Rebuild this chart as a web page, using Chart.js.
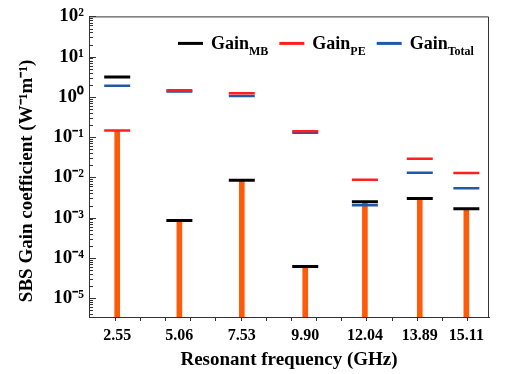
<!DOCTYPE html>
<html>
<head>
<meta charset="utf-8">
<script src="https://cdn.jsdelivr.net/npm/chart.js@4.4.1/dist/chart.umd.min.js"></script>
<style>
  html, body { margin: 0; padding: 0; background: #fff; }
  #wrap { width: 505px; height: 374px; }
</style>
</head>
<body>
<div id="wrap"><canvas id="c"></canvas></div>
<script>
// ---------------- data ----------------
const freqLabels = ['2.55', '5.06', '7.53', '9.90', '12.04', '13.89', '15.11'];
const xPos = [0.08, 2.55, 5.03, 7.55, 9.92, 12.1, 13.95];
const gainMB = [3.1, 8.5e-4, 8.5e-3, 6.1e-5, 2.5e-3, 3.0e-3, 1.66e-3];
const gainPE = [0.147, 1.46, 1.23, 0.141, 8.8e-3, 0.029, 0.0129];
const gainTotal = [1.9, 1.36, 1.06, 0.128, 2.03e-3, 0.0131, 5.4e-3];
const stem = [0.147, 8.5e-4, 8.5e-3, 6.1e-5, 2.5e-3, 3.0e-3, 1.66e-3];
const yExponents = [-5, -4, -3, -2, -1, 0, 1, 2];
const legendSubs = ['MB', 'PE', 'Total'];

const FONT = "'Liberation Serif', 'Times New Roman', serif";
const cBlack = '#000000', cRed = '#ff1f1f', cBlue = '#1f5aa8', cOrange = '#ff5a0a';

const sup = { '-': '\u207B', '0': '\u2070', '1': '\u00B9', '2': '\u00B2', '3': '\u00B3',
  '4': '\u2074', '5': '\u2075', '6': '\u2076', '7': '\u2077', '8': '\u2078', '9': '\u2079' };
const toSup = (n) => String(n).split('').map(ch => sup[ch]).join('');

const pts = (ys) => ys.map((y, i) => ({ x: xPos[i], y: y }));

function cap(label, data, color, order, width) {
  return {
    type: 'line', label: label, data: pts(data), showLine: false, order: order,
    pointStyle: 'line', pointRadius: 13, pointHoverRadius: 13,
    borderColor: color, backgroundColor: color, pointBorderWidth: width, borderWidth: width
  };
}

// frame, inward y ticks and the legend with subscripts
const extras = {
  id: 'extras',
  afterDraw(chart) {
    const ctx = chart.ctx, a = chart.chartArea, y = chart.scales.y;
    ctx.save();
    ctx.strokeStyle = '#333';
    ctx.lineWidth = 1;
    ctx.beginPath();
    ctx.moveTo(a.left, a.top + 0.5);
    ctx.lineTo(a.right - 0.5, a.top + 0.5);
    ctx.lineTo(a.right - 0.5, a.bottom);
    ctx.stroke();
    // y ticks pointing into the plot
    y.ticks.forEach(t => {
      const p = Math.round(y.getPixelForValue(t.value)) + 0.5;
      const len = t.label ? 7 : 4;
      ctx.beginPath();
      ctx.moveTo(a.left, p);
      ctx.lineTo(a.left + len, p);
      ctx.stroke();
    });
    // legend
    const colors = [cBlack, cRed, cBlue];
    let x = a.left + 89;
    const ly = a.top + 27;
    legendSubs.forEach((s, i) => {
      ctx.strokeStyle = colors[i];
      ctx.lineWidth = 3;
      ctx.beginPath();
      ctx.moveTo(x, ly);
      ctx.lineTo(x + 25, ly);
      ctx.stroke();
      x += 33;
      ctx.fillStyle = '#000';
      ctx.textBaseline = 'alphabetic';
      ctx.font = 'bold 18px ' + FONT;
      ctx.fillText('Gain', x, ly + 6);
      x += ctx.measureText('Gain').width;
      ctx.font = 'bold 12px ' + FONT;
      ctx.fillText(s, x, ly + 12);
      x += ctx.measureText(s).width + 11;
    });
    ctx.restore();
  }
};

new Chart(document.getElementById('c'), {
  type: 'bar',
  data: {
    datasets: [
      cap('Gain MB', gainMB, cBlack, 0, 3),
      cap('Gain PE', gainPE, cRed, 1, 2.5),
      cap('Gain Total', gainTotal, cBlue, 2, 2.5),
      {
        type: 'bar', label: 'stem', data: pts(stem), order: 3,
        backgroundColor: cOrange, borderWidth: 0, barThickness: 5
      }
    ]
  },
  options: {
    responsive: true,
    maintainAspectRatio: false,
    animation: false,
    layout: { padding: { left: 16, right: 3, top: 12, bottom: 0 } },
    plugins: { legend: { display: false }, tooltip: { enabled: false } },
    scales: {
      x: {
        type: 'linear', min: -1.04, max: 14.85, offset: false,
        afterBuildTicks(axis) {
          const t = [];
          for (let i = 0; i <= 14; i++) t.push({ value: i });
          xPos.forEach(v => t.push({ value: v }));
          axis.ticks = t;
        },
        afterFit(axis) { axis.height = 57; },
        grid: {
          offset: false, drawOnChartArea: false, drawTicks: true, tickLength: 4,
          tickColor: (c) => (c.tick && xPos.includes(c.tick.value)) ? 'rgba(0,0,0,0)' : '#333'
        },
        border: { color: '#333', width: 1 },
        ticks: {
          autoSkip: false, maxRotation: 0, padding: 5, color: '#000',
          font: { family: FONT, size: 16, weight: 'bold' },
          callback: (v) => { const i = xPos.indexOf(v); return i >= 0 ? freqLabels[i] : ''; }
        },
        title: {
          display: true, text: 'Resonant frequency (GHz)', color: '#000',
          font: { family: FONT, size: 19, weight: 'bold' }, padding: { top: 0, bottom: 3 }
        }
      },
      y: {
        type: 'logarithmic', min: 3.4e-6, max: 100,
        afterBuildTicks(axis) {
          const t = [];
          for (let e = -6; e <= 2; e++) {
            for (let m = 1; m <= 9; m++) {
              const v = m * Math.pow(10, e);
              if (v >= axis.min * 0.999 && v <= axis.max * 1.001) t.push({ value: v });
            }
          }
          axis.ticks = t;
        },
        afterFit(axis) { axis.width = 73; },
        grid: { display: false, drawTicks: false },
        border: { color: '#333', width: 1 },
        ticks: {
          autoSkip: false, padding: 5, color: '#000',
          font: { family: FONT, size: 19, weight: 'bold' },
          callback: (v) => {
            const e = Math.round(Math.log10(v));
            return (yExponents.includes(e) && Math.abs(v / Math.pow(10, e) - 1) < 1e-6) ? '10' + toSup(e) : '';
          }
        },
        title: {
          display: true, text: 'SBS Gain coefficient (W\u207B\u00B9m\u207B\u00B9)      ', color: '#000',
          font: { family: FONT, size: 19, weight: 'bold' }, padding: { top: 0, bottom: 0 }
        }
      }
    }
  },
  plugins: [extras]
});
</script>
</body>
</html>
